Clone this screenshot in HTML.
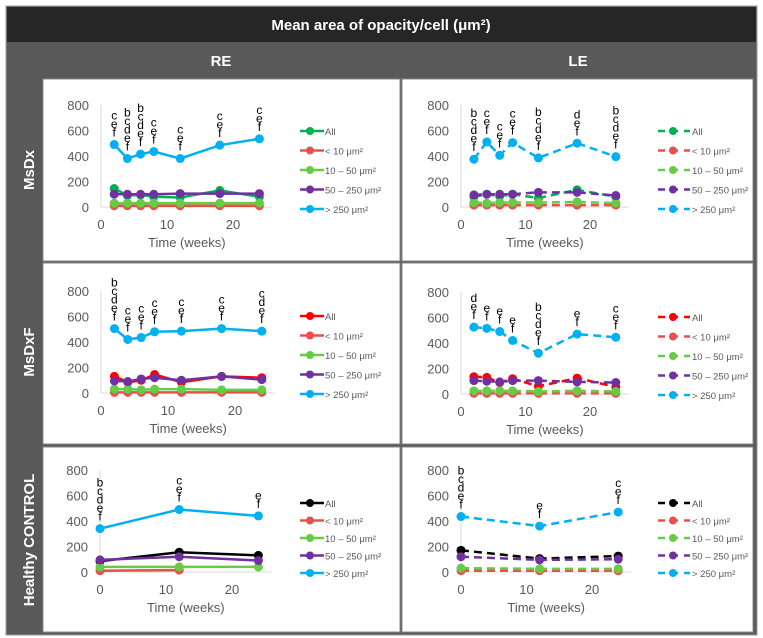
<!DOCTYPE html>
<html><head><meta charset="utf-8"><style>
body{margin:0;background:#fff;}
svg{display:block;font-family:"Liberation Sans",sans-serif;}
</style></head><body>
<svg id="fig" width="763" height="638" viewBox="0 0 763 638">
<rect x="6" y="6" width="751" height="629" fill="#595959" stroke="#999"/>
<rect x="7" y="7" width="749" height="35" fill="#262626"/>
<text x="381" y="30" fill="#fff" font-size="15" font-weight="bold" text-anchor="middle">Mean area of opacity/cell (μm²)</text>
<text x="221" y="66" fill="#fff" font-size="15" font-weight="bold" text-anchor="middle">RE</text>
<text x="578" y="66" fill="#fff" font-size="15" font-weight="bold" text-anchor="middle">LE</text>
<text transform="translate(34,170) rotate(-90)" fill="#fff" font-size="15" font-weight="bold" text-anchor="middle">MsDx</text>
<text transform="translate(34,352) rotate(-90)" fill="#fff" font-size="15" font-weight="bold" text-anchor="middle">MsDxF</text>
<text transform="translate(34,540) rotate(-90)" fill="#fff" font-size="15" font-weight="bold" text-anchor="middle">Healthy CONTROL</text>
<g id="panels"></g>
</svg>
<script>
// ---- data ----
const weeksDx = [2,4,6,8,12,18,24];
const weeksCtl = [0,12,24];
const yTicks = [0,200,400,600,800];
const xTicks = [0,10,20];
const seriesNames = ["All","< 10 μm²","10 – 50 μm²","50 – 250 μm²","> 250 μm²"];

const dxRE_all = [145,90,95,80,75,130,80];
const dxRE_lt10 = [10,10,10,10,10,10,10];
const dxRE_10_50 = [30,30,30,30,30,30,30];
const dxRE_50_250 = [100,100,100,100,105,105,105];
const dxRE_gt250 = [490,380,415,435,380,485,535];
const dxRE_ann = ["cef","bcdef","bcdef","cef","cef","cef","cef"];

const dxLE_all = [80,100,85,100,70,135,80];
const dxLE_lt10 = [15,15,15,15,15,15,15];
const dxLE_10_50 = [35,30,35,35,35,40,30];
const dxLE_50_250 = [95,100,100,100,115,115,90];
const dxLE_gt250 = [375,510,405,505,385,500,395];
const dxLE_ann = ["bcdef","cef","cef","cef","bcdef","def","bcdef"];

const dxfRE_all = [130,85,100,145,85,130,120];
const dxfRE_lt10 = [5,5,5,5,5,5,5];
const dxfRE_10_50 = [30,30,25,30,30,25,25];
const dxfRE_50_250 = [95,90,110,120,100,130,105];
const dxfRE_gt250 = [505,420,435,480,485,505,485];
const dxfRE_ann = ["bcdef","cef","cef","cef","cef","cef","cdef"];

const dxfLE_all = [135,130,90,120,60,125,55];
const dxfLE_lt10 = [5,5,5,5,5,5,5];
const dxfLE_10_50 = [25,25,25,25,20,25,20];
const dxfLE_50_250 = [105,100,95,105,105,95,90];
const dxfLE_gt250 = [525,515,490,420,320,470,445];
const dxfLE_ann = ["def","ef","ef","ef","bcdef","ef","cef"];

const ctlRE_all = [85,155,130];
const ctlRE_lt10 = [10,15];
const ctlRE_10_50 = [40,40,40];
const ctlRE_50_250 = [95,120,90];
const ctlRE_gt250 = [340,490,440];
const ctlRE_ann = ["bcdef","cef","ef"];

const ctlLE_all = [170,105,125];
const ctlLE_lt10 = [10,10,10];
const ctlLE_10_50 = [30,25,25];
const ctlLE_50_250 = [120,95,100];
const ctlLE_gt250 = [435,360,470];
const ctlLE_ann = ["bcdef","ef","cef"];

// ---- drawing ----
const NS="http://www.w3.org/2000/svg";
const root=document.getElementById('panels');
function mk(tag,attrs,parent){const e=document.createElementNS(NS,tag);for(const k in attrs)e.setAttribute(k,attrs[k]);(parent||root).appendChild(e);return e;}
const C_LT10="#e8504c",C_1050="#66cc44",C_PUR="#7030a0",C_BLUE="#00b0f0";

function panel(cfg){
  const g=mk('g',{});
  
  
  const bg=mk('rect',{x:cfg.px,y:cfg.py,width:cfg.pw,height:cfg.ph,fill:'#fff',stroke:'#888','stroke-width':1},g);
  
  
  const x0=cfg.x0, y0=cfg.y0, kx=cfg.kx, ky=102/800;
  const sx=v=>x0+v*kx, sy=v=>y0-v*ky;
  const ya=mk('line',{x1:x0,y1:sy(800),x2:x0,y2:y0,stroke:'#d9d9d9','stroke-width':1},g);
  
  
  const xa=mk('line',{x1:x0,y1:y0,x2:sx(26),y2:y0,stroke:'#d9d9d9','stroke-width':1},g);
  
  
  yTicks.forEach(t=>{const e=mk('text',{x:x0-12,y:sy(t)+5,'font-size':13,fill:'#595959','text-anchor':'end'},g);e.textContent=t;
    
    });
  xTicks.forEach(t=>{const e=mk('text',{x:sx(t),y:y0+22,'font-size':13,fill:'#595959','text-anchor':'middle'},g);e.textContent=t;
    
    });
  const at=mk('text',{x:sx(13),y:y0+40,'font-size':13,fill:'#595959','text-anchor':'middle'},g);at.textContent='Time (weeks)';
  
  
  const dash=cfg.dashed?'8,5':'none';
  cfg.series.forEach((s,i)=>{
    const pts=s.vals.map((v,j)=>sx(cfg.weeks[j])+','+sy(v)).join(' ');
    const sg=mk('g',{},g);
    
    
    mk('polyline',{points:pts,fill:'none',stroke:s.color,'stroke-width':2.5,'stroke-dasharray':dash},sg);
    s.vals.forEach((v,j)=>{const c=mk('circle',{cx:sx(cfg.weeks[j]),cy:sy(v),r:4.5,fill:s.color},sg);
      
      });
    const ly=y0-cfg.legTop+i*cfg.legStep;
    const lg=mk('g',{},g);
    
    
    mk('line',{x1:cfg.lx,y1:ly,x2:cfg.lx+(cfg.dashed?32:24),y2:ly,stroke:s.color,'stroke-width':2.5,'stroke-dasharray':cfg.dashed?'7,6':'none'},lg);
    mk('circle',{cx:cfg.lx+(cfg.dashed?15:10),cy:ly,r:4,fill:s.color},lg);
    const lt=mk('text',{x:cfg.lx+(cfg.dashed?34:25),y:ly+4,'font-size':9.5,fill:'#595959'},lg);lt.textContent=seriesNames[i];
  });
  const top=cfg.series[4].vals;
  cfg.ann.forEach((a,j)=>{
    const letters=a.split('');
    letters.forEach((ch,k)=>{
      const e=mk('text',{x:sx(cfg.weeks[j]),y:sy(top[j])-8-(letters.length-1-k)*8.5,'font-size':12,fill:'#000','text-anchor':'middle'},g);
      e.textContent=ch;
      
      
    });
  });
}
function S(all,allColor,a,b,c,d){return[{key:'all',vals:all,color:allColor},{key:'lt10',vals:a,color:C_LT10},{key:'10-50',vals:b,color:C_1050},{key:'50-250',vals:c,color:C_PUR},{key:'gt250',vals:d,color:C_BLUE}];}

panel({name:'msdx-re-chart',px:43,py:79,pw:357,ph:182,x0:101,y0:207,kx:6.6,dashed:false,lx:300,legTop:76,legStep:19.5,weeks:weeksDx,ann:dxRE_ann,series:S(dxRE_all,'#00b050',dxRE_lt10,dxRE_10_50,dxRE_50_250,dxRE_gt250)});
panel({name:'msdx-le-chart',px:402,py:79,pw:351,ph:182,x0:461,y0:207,kx:6.45,dashed:true,lx:658,legTop:76,legStep:19.5,weeks:weeksDx,ann:dxLE_ann,series:S(dxLE_all,'#00b050',dxLE_lt10,dxLE_10_50,dxLE_50_250,dxLE_gt250)});
panel({name:'msdxf-re-chart',px:43,py:263,pw:357,ph:181,x0:101,y0:393,kx:6.7,dashed:false,lx:300,legTop:77,legStep:19.5,weeks:weeksDx,ann:dxfRE_ann,series:S(dxfRE_all,'#ff0000',dxfRE_lt10,dxfRE_10_50,dxfRE_50_250,dxfRE_gt250)});
panel({name:'msdxf-le-chart',px:402,py:263,pw:351,ph:181,x0:461,y0:394,kx:6.45,dashed:true,lx:658,legTop:77,legStep:19.5,weeks:weeksDx,ann:dxfLE_ann,series:S(dxfLE_all,'#ff0000',dxfLE_lt10,dxfLE_10_50,dxfLE_50_250,dxfLE_gt250)});
panel({name:'control-re-chart',px:43,py:447,pw:357,ph:185,x0:100,y0:572,kx:6.6,dashed:false,lx:300,legTop:69,legStep:17.5,weeks:weeksCtl,ann:ctlRE_ann,series:S(ctlRE_all,'#000000',ctlRE_lt10,ctlRE_10_50,ctlRE_50_250,ctlRE_gt250)});
panel({name:'control-le-chart',px:402,py:447,pw:351,ph:185,x0:461,y0:572,kx:6.55,dashed:true,lx:658,legTop:69,legStep:17.5,weeks:weeksCtl,ann:ctlLE_ann,series:S(ctlLE_all,'#000000',ctlLE_lt10,ctlLE_10_50,ctlLE_50_250,ctlLE_gt250)});
</script>
</body></html>
